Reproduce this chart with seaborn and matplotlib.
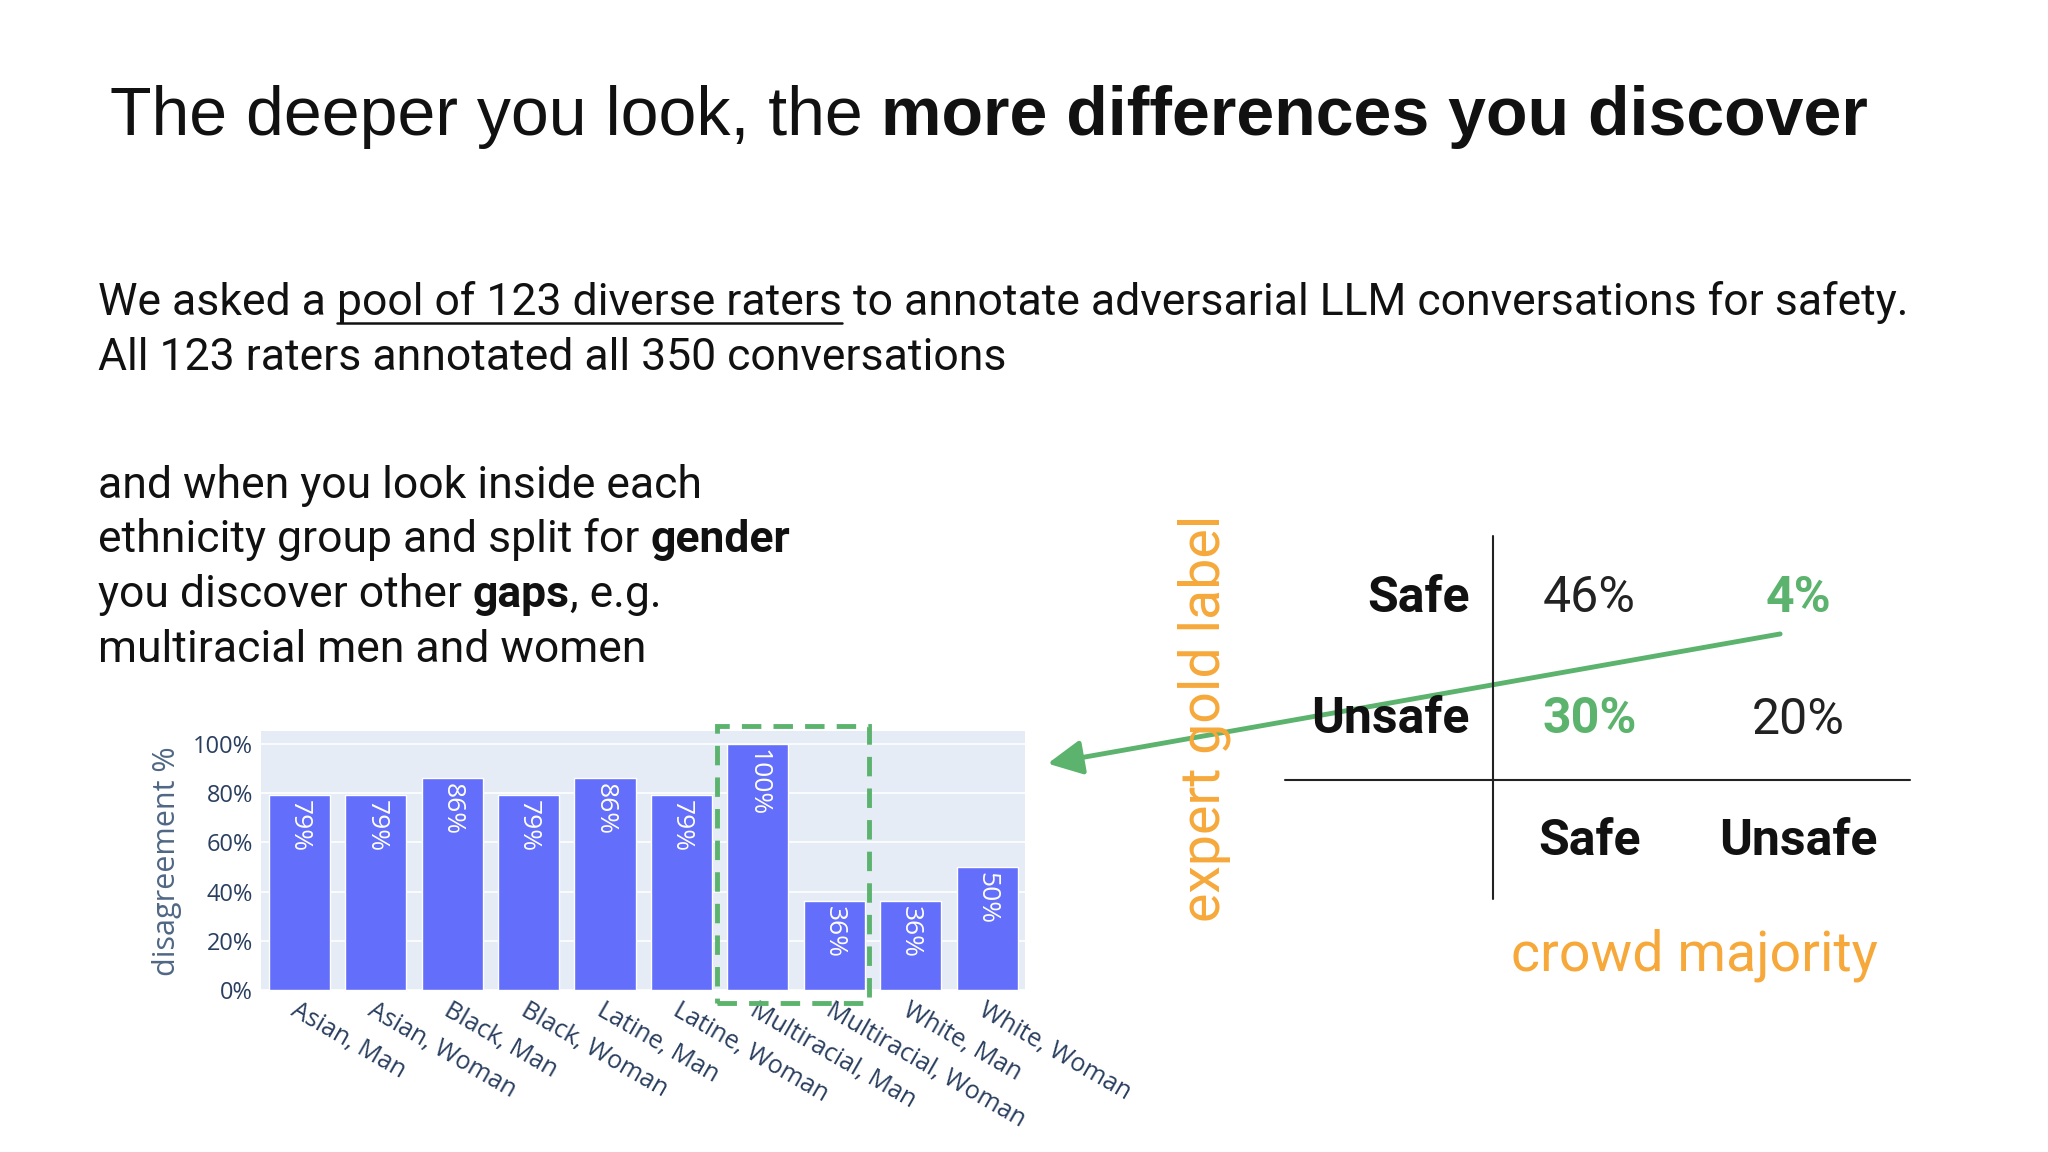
import matplotlib
matplotlib.use("Agg")
import matplotlib.pyplot as plt
import seaborn as sns
import pandas as pd
from matplotlib.patches import Rectangle, FancyArrowPatch
from matplotlib.lines import Line2D

groups = ["Asian, Man", "Asian, Woman", "Black, Man", "Black, Woman", "Latine, Man",
          "Latine, Woman", "Multiracial, Man", "Multiracial, Woman", "White, Man", "White, Woman"]
disagreement = [79, 79, 86, 79, 86, 79, 100, 36, 36, 50]
matrix_rows = ["Safe", "Unsafe"]
matrix_cols = ["Safe", "Unsafe"]
matrix_vals = [["46%", "4%"], ["30%", "20%"]]

sns.set_theme(style="white")
W, H = 2048, 1152
fig = plt.figure(figsize=(20.48, 11.52), dpi=100)
def fx(x): return x / 1568.0
def fy(y): return 1 - y / 882.0

BODY = "Roboto"
renderer = fig.canvas.get_renderer()

def rich(x, y, parts, size, family, color="#111111"):
    xp = fx(x)
    for txt, weight, ul in parts:
        t = fig.text(xp, fy(y), txt, fontsize=size, family=family, weight=weight,
                     color=color, va="baseline", ha="left")
        bb = t.get_window_extent(renderer)
        if ul:
            fig.add_artist(Line2D([bb.x0 / W, bb.x1 / W], [fy(y + 6), fy(y + 6)], color=color, lw=1.8))
        xp = bb.x1 / W

rich(84, 103, [("The deeper you look, the ", "normal", False), ("more differences you discover", "bold", False)],
     49, "Liberation Sans")
rich(75, 241, [("We asked a ", "normal", False), ("pool of 123 diverse raters", "normal", True),
               (" to annotate adversarial LLM conversations for safety.", "normal", False)], 32, BODY)
rich(75, 283, [("All 123 raters annotated all 350 conversations", "normal", False)], 32, BODY)
rich(75, 381, [("and when you look inside each", "normal", False)], 32, BODY)
rich(75, 423, [("ethnicity group and split for ", "normal", False), ("gender", "bold", False)], 32, BODY)
rich(75, 465, [("you discover other ", "normal", False), ("gaps", "bold", False), (", e.g.", "normal", False)], 32, BODY)
rich(75, 507, [("multiracial men and women", "normal", False)], 32, BODY)

# bar chart
ax = fig.add_axes([fx(200), fy(758), fx(785) - fx(200), fy(560) - fy(758)])
ax.set_facecolor("#E5ECF6")
df = pd.DataFrame({"group": groups, "val": disagreement})
sns.barplot(data=df, x="group", y="val", color="#636EFA", saturation=1, width=0.8, ax=ax, zorder=3)
ax.set_ylim(0, 105)
ax.set_yticks([0, 20, 40, 60, 80, 100])
ax.set_yticklabels([f"{v}%" for v in [0, 20, 40, 60, 80, 100]], fontsize=17, color="#2a3f5f", family="Open Sans")
ax.grid(axis="y", color="white", lw=1.2, zorder=0)
ax.set_xlabel("")
ax.set_ylabel("disagreement %", fontsize=22, color="#506784", family="Open Sans", labelpad=8)
ax.set_xticks(range(len(groups)))
ax.set_xticklabels(groups, rotation=-30, ha="left", va="top", rotation_mode="anchor",
                   fontsize=18, color="#2a3f5f", family="Open Sans")
ax.tick_params(axis="both", length=0, pad=6)
for s in ax.spines.values():
    s.set_visible(False)
for i, v in enumerate(disagreement):
    ax.text(i, v - 2, f"{v}%", rotation=270, ha="center", va="top", color="white",
            fontsize=19, family="Open Sans", zorder=4)

green = "#5BB36D"
fig.add_artist(Rectangle((fx(549), fy(768)), fx(665) - fx(549), fy(556) - fy(768),
                         fill=False, ec=green, lw=3.5, ls=(0, (4, 2.5))))

# matrix
fig.add_artist(Line2D([fx(1143), fx(1143)], [fy(410), fy(688)], color="#222", lw=1.5))
fig.add_artist(Line2D([fx(984), fx(1462)], [fy(597), fy(597)], color="#222", lw=1.5))
for r, ry in zip(matrix_rows, [458, 551]):
    fig.text(fx(1125), fy(ry), r, ha="right", va="center", fontsize=36, weight="bold", family=BODY, color="#111")
for c, cx in zip(matrix_cols, [1217, 1377]):
    fig.text(fx(cx), fy(644), c, ha="center", va="center", fontsize=36, weight="bold", family=BODY, color="#111")
for ri, ry in enumerate([458, 551]):
    for ci, cx in enumerate([1217, 1377]):
        hl = (ri == 0 and ci == 1) or (ri == 1 and ci == 0)
        fig.text(fx(cx), fy(ry), matrix_vals[ri][ci], ha="center", va="center", fontsize=36,
                 weight="bold" if hl else "normal", color=green if hl else "#222", family=BODY)

orange = "#F6A83A"
fig.text(fx(922), fy(550), "expert gold label", rotation=90, ha="center", va="center",
         fontsize=40, color=orange, family=BODY)
fig.text(fx(1297), fy(731), "crowd majority", ha="center", va="center", fontsize=40, color=orange, family=BODY)

fig.add_artist(FancyArrowPatch((fx(1365), fy(485)), (fx(800), fy(585)), arrowstyle="-|>,head_length=14,head_width=7",
                               color=green, lw=3.5, mutation_scale=1.5))

fig.savefig("out.png", dpi=100, facecolor="white")
